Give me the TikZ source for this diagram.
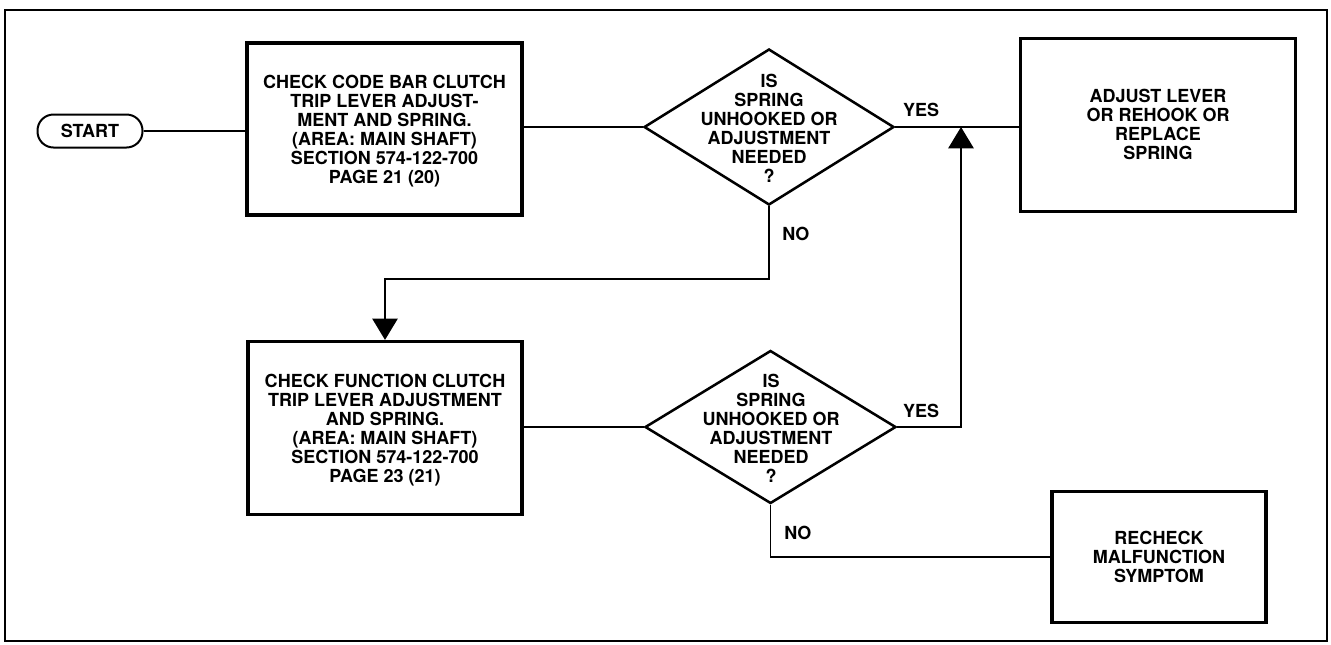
\documentclass[tikz,border=0pt]{standalone}
\usepackage{fontspec}
\setmainfont{TeX Gyre Heros}
\usetikzlibrary{shapes.geometric,arrows.meta}
\begin{document}
\begin{tikzpicture}[x=0.75pt,y=-0.75pt,
  txt/.style={font=\fontsize{13.5}{14.25}\selectfont\bfseries, align=center, inner sep=0pt},
  box/.style={draw, line width=2.4pt, inner sep=0pt, txt},
  dia/.style={draw, diamond, line width=1.9pt, inner sep=0pt},
  conn/.style={line width=1.3pt},
  tip/.style={-{Triangle[width=19pt,length=16pt]}}
]
\useasboundingbox (0,0) rectangle (1331,644);
\draw[line width=1.3pt] (5,10) rectangle (1327,641);

\node[draw, line width=1.5pt, rounded corners=12pt, minimum width=78.75pt, minimum height=24.75pt, txt] (start) at (90,131) {START};

\node[box, minimum width=206.25pt, minimum height=129pt] (b1) at (384.5,129) {};
\node[txt] (b1t) at (384.5,131) {CHECK CODE BAR CLUTCH\\TRIP LEVER ADJUST-\\MENT AND SPRING.\\(AREA: MAIN SHAFT)\\SECTION 574-122-700\\PAGE 21 (20)};

\node[dia, minimum width=187.5pt, minimum height=117pt] (d1) at (769,127) {};
\node[txt] (d1t) at (769,128) {IS\\SPRING\\UNHOOKED OR\\ADJUSTMENT\\NEEDED\\?};

\node[box, minimum width=206.25pt, minimum height=129.75pt] (adj) at (1158,125) {};
\node[txt] (adjt) at (1158,124) {ADJUST LEVER\\OR REHOOK OR\\REPLACE\\SPRING};

\node[box, minimum width=205.5pt, minimum height=129.75pt] (b2) at (385,428) {};
\node[txt] (b2t) at (385,430) {CHECK FUNCTION CLUTCH\\TRIP LEVER ADJUSTMENT\\AND SPRING.\\(AREA: MAIN SHAFT)\\SECTION 574-122-700\\PAGE 23 (21)};

\node[dia, minimum width=188.25pt, minimum height=114.75pt] (d2) at (770.5,427) {};
\node[txt] (d2t) at (771,428) {IS\\SPRING\\UNHOOKED OR\\ADJUSTMENT\\NEEDED\\?};

\node[box, minimum width=160.5pt, minimum height=98.25pt] (rech) at (1159,557) {};
\node[txt] (recht) at (1159,557) {RECHECK\\MALFUNCTION\\SYMPTOM};

\node[txt] (yes1) at (921,110) {YES};
\node[txt] (yes2) at (921,411) {YES};
\node[txt, anchor=west] (no1) at (782,234) {NO};
\node[txt, anchor=west] (no2) at (784,533) {NO};

\coordinate (j) at (961,127);

\draw[conn] (start.east) -- (start.east -| b1.west);
\draw[conn] (d1.west) -- (d1.west -| b1.east);
\draw[conn] (d1.east) -- (d1.east -| adj.west);
\draw[conn, tip] (d1.south) -- ++(0,73) -| (b2.north);
\draw[conn] (d2.west) -- (d2.west -| b2.east);
\draw[conn, tip] (d2.east) -| (j);
\draw[conn] (d2.south) |- (rech.west);
\end{tikzpicture}
\end{document}
